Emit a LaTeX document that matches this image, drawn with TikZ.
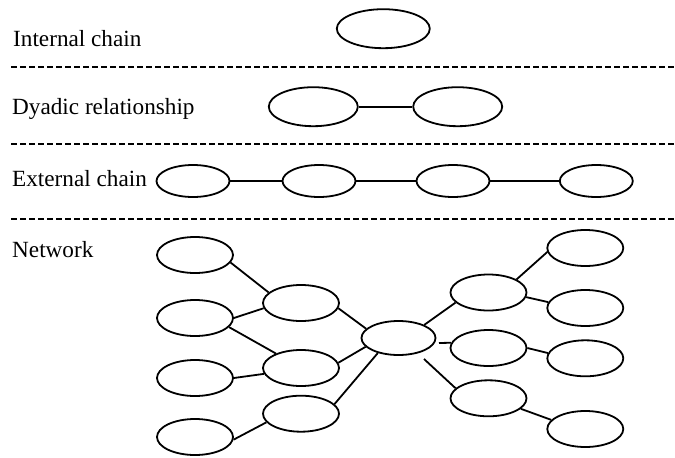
\documentclass[tikz,border=0pt]{standalone}
\usepackage{fontspec}
\setmainfont{Liberation Serif}
\usetikzlibrary{shapes.geometric}
\begin{document}
\begin{tikzpicture}[x=1pt,y=-1pt,
  ell/.style={draw,ellipse,line width=1.8pt,inner sep=0pt,minimum width=76pt,minimum height=36pt},
  link/.style={line width=1.8pt},
  sep/.style={line width=1.8pt,dash pattern=on 6pt off 3pt},
  lab/.style={anchor=base west,inner sep=0pt,font=\fontsize{23.2}{27}\selectfont}]
\useasboundingbox (0,0) rectangle (675,458);
% labels
\node[lab] (t1) at (13,46.7) {Internal chain};
\node[lab] (t2) at (12,114) {Dyadic relationship};
\node[lab] (t3) at (12,186.7) {External chain};
\node[lab] (t4) at (12,257.7) {Network};
% separators
\coordinate (s1a) at (11,67); \coordinate (s1b) at (674,67);
\coordinate (s2a) at (11,144.3); \coordinate (s2b) at (674,144.3);
\coordinate (s3a) at (11,219); \coordinate (s3b) at (674,219);
\draw[sep] (s1a) -- (s1b);
\draw[sep] (s2a) -- (s2b);
\draw[sep] (s3a) -- (s3b);
% internal chain
\node[ell,minimum width=93pt,minimum height=39pt] (ic) at (383.3,28.7) {};
% dyadic
\node[ell,minimum width=89pt,minimum height=39pt] (d1) at (313.3,106.7) {};
\node[ell,minimum width=89pt,minimum height=39pt] (d2) at (457.7,106.7) {};
\draw[link] (d1) -- (d2);
% external chain
\node[ell,minimum width=73pt,minimum height=32pt] (e1) at (193,181) {};
\node[ell,minimum width=73pt,minimum height=32pt] (e2) at (319,181) {};
\node[ell,minimum width=73pt,minimum height=32pt] (e3) at (453,181) {};
\node[ell,minimum width=73pt,minimum height=32pt] (e4) at (596.3,181) {};
\draw[link] (e1) -- (e2);
\draw[link] (e2) -- (e3);
\draw[link] (e3) -- (e4);
% network
\node[ell] (l1) at (195,255) {};
\node[ell] (l2) at (195,318) {};
\node[ell] (l3) at (195,378) {};
\node[ell] (l4) at (195,437) {};
\node[ell] (m1) at (301,303) {};
\node[ell] (m2) at (301,368) {};
\node[ell] (m3) at (301,413.7) {};
\node[ell,minimum width=74pt,minimum height=34pt] (c) at (398.5,338) {};
\node[ell] (rm1) at (488.5,292.5) {};
\node[ell] (rm2) at (488.5,348) {};
\node[ell] (rm3) at (488.5,398.3) {};
\node[ell] (r1) at (585.3,248) {};
\node[ell] (r2) at (585.3,308) {};
\node[ell] (r3) at (585.3,358.3) {};
\node[ell] (r4) at (585.3,429) {};
\draw[link] (l1.348) -- (m1.162.5);
\draw[link] (l2.0) -- (m1.188);
\draw[link] (l2.345) -- (m2.150.5);
\draw[link] (l3.0) -- (m2.189);
\draw[link] (l4.356.6) -- (m3.194);
\draw[link] (m1.352.3) -- (c.164.3);
\draw[link] (m2.8.2) -- (c.195.7);
\draw[link] (m3.16.5) -- (c.216.2);
\draw[link] (c.27) -- (rm1.197.4);
\coordinate (g2) at (439,343);
\coordinate (g3) at (424,359);
\draw[link] (g2) -- (rm2.172);
\draw[link] (g3) -- (rm3.163);
\draw[link] (rm1.25.5) -- (r1.186.6);
\draw[link] (rm1.353) -- (r2.171.8);
\draw[link] (rm2.0) -- (r3.172.3);
\draw[link] (rm3.342.9) -- (r4.165);
\end{tikzpicture}
\end{document}
